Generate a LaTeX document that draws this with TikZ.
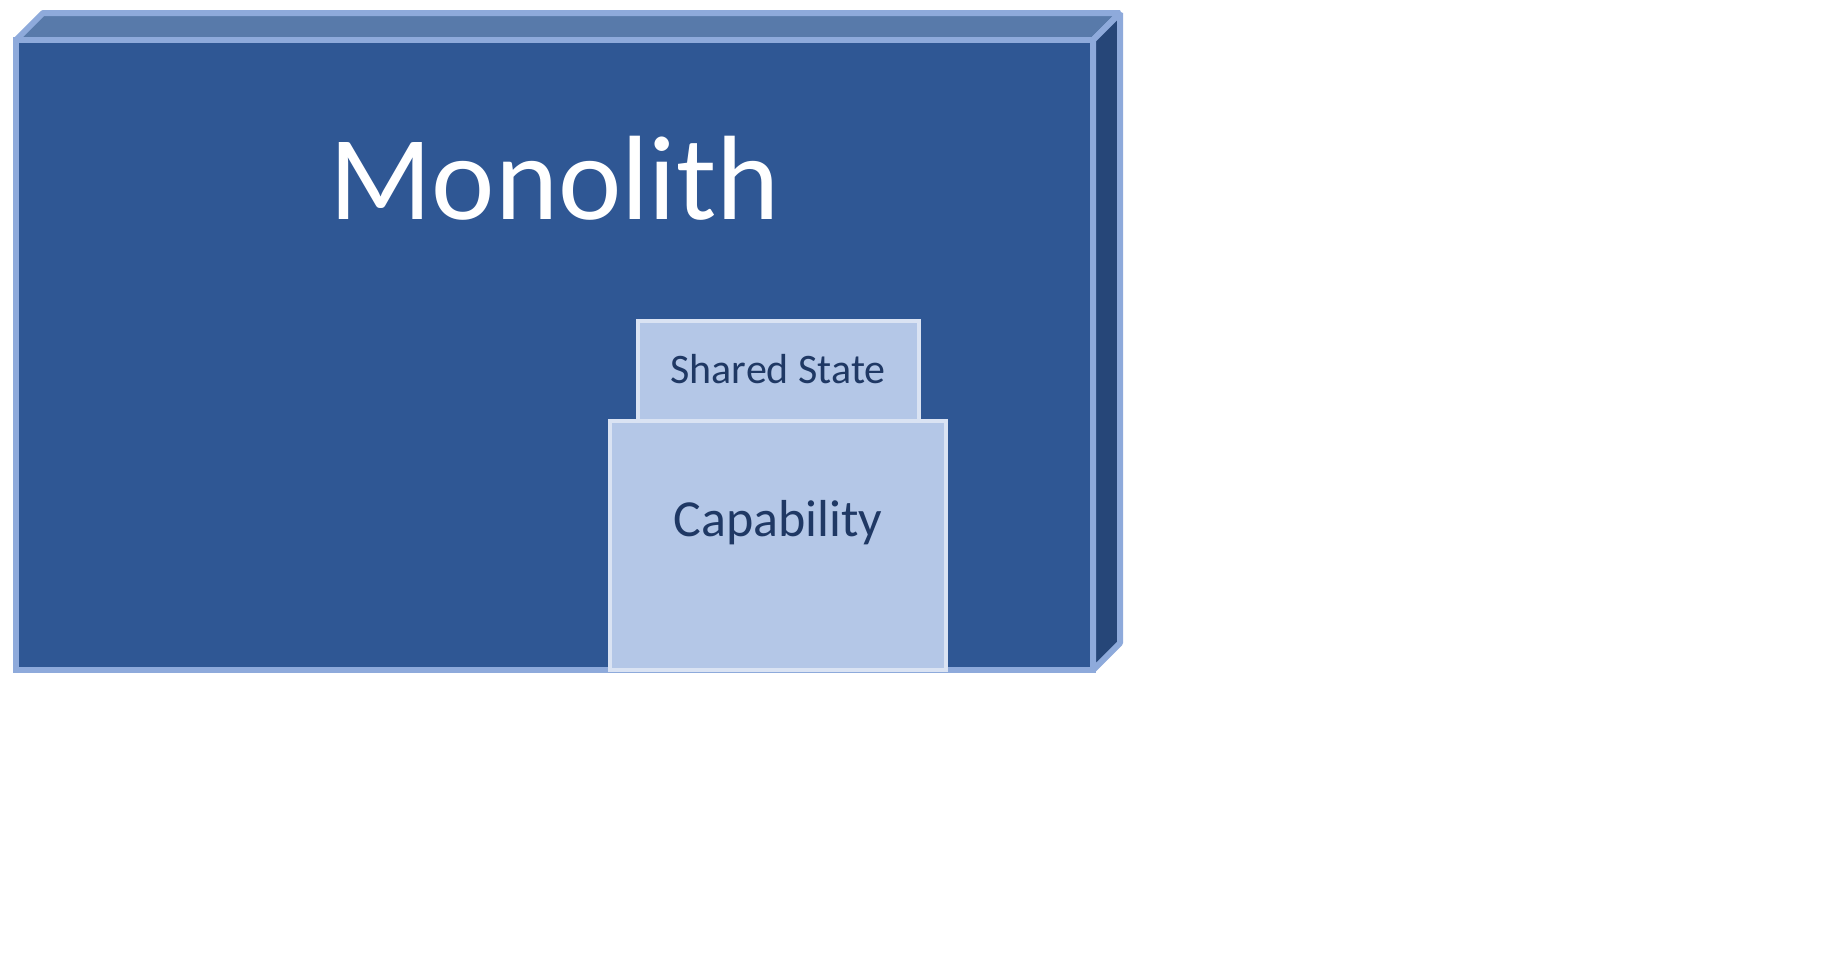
\documentclass[tikz,border=0pt]{standalone}
\usepackage{fontspec}
\setmainfont{Carlito}
\definecolor{frontC}{RGB}{47,87,148}
\definecolor{topC}{RGB}{88,122,170}
\definecolor{sideC}{RGB}{38,70,120}
\definecolor{edgeC}{RGB}{142,170,219}
\definecolor{innerC}{RGB}{180,199,231}
\definecolor{innerEdge}{RGB}{218,227,243}
\definecolor{navyC}{RGB}{31,56,100}
\tikzset{
  face/.style={draw=edgeC, line width=4.5pt, line join=bevel},
  innerbox/.style={draw=innerEdge, fill=innerC, line width=3pt, line join=miter},
  innertext/.style={text=navyC, anchor=base, inner sep=0pt},
}
\begin{document}
\begin{tikzpicture}[x=0.75pt, y=-0.75pt]
\useasboundingbox (0,0) rectangle (1828,960);
% 3D monolith block
\draw[face, fill=topC] (16,40) -- (43,13) -- (1120,13) -- (1093,40) -- cycle;
\draw[face, fill=sideC] (1093,40) -- (1120,13) -- (1120,643) -- (1093,670) -- cycle;
\draw[face, line join=miter, fill=frontC] (16,40) rectangle (1093,670);
\node[text=white, anchor=base, inner sep=0pt, font=\fontsize{90}{100}\selectfont] (mono) at (554.5,219) {Monolith};
% shared state
\draw[innerbox] (638,321) rectangle (919,440);
\node[innertext, font=\fontsize{31.5}{36}\selectfont] (shared) at (778,383) {Shared State};
% capability
\draw[innerbox] (610,421) rectangle (946,670);
\node[innertext, font=\fontsize{39}{44}\selectfont] (cap) at (778,536) {Capability};
\end{tikzpicture}
\end{document}
